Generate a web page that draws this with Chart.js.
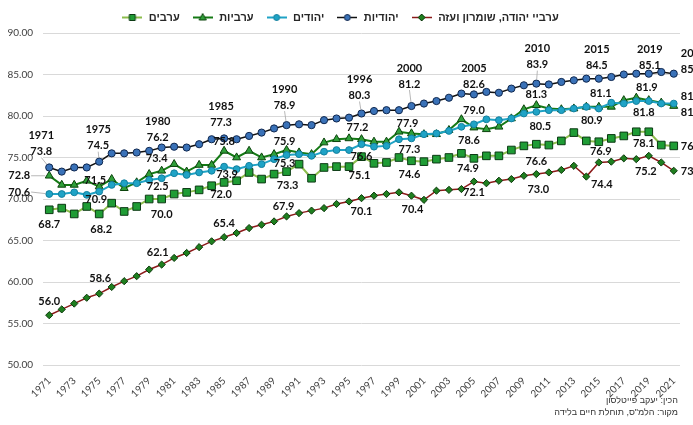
<!DOCTYPE html>
<html>
<head>
<meta charset="utf-8">
<script src="https://cdn.jsdelivr.net/npm/chart.js@4.4.1/dist/chart.umd.min.js"></script>
<style>
  html, body { margin: 0; padding: 0; background: #fff; }
</style>
</head>
<body>
<canvas id="chartTohelet" width="693" height="425"></canvas>
<script>
// Datos: tohelet hayim (esperanza de vida al nacer), 1971-2021
const years = [1971, 1972, 1973, 1974, 1975, 1976, 1977, 1978, 1979, 1980,
               1981, 1982, 1983, 1984, 1985, 1986, 1987, 1988, 1989, 1990,
               1991, 1992, 1993, 1994, 1995, 1996, 1997, 1998, 1999, 2000,
               2001, 2002, 2003, 2004, 2005, 2006, 2007, 2008, 2009, 2010,
               2011, 2012, 2013, 2014, 2015, 2016, 2017, 2018, 2019, 2020, 2021];

const seriesNames = ['ערביי יהודה, שומרון ועזה', 'יהודיות', 'יהודים', 'ערביות', 'ערבים'];

const arabsJSG = [56.0, 56.7, 57.4, 58.1, 58.6, 59.4, 60.1, 60.7, 61.5, 62.1,
                  62.9, 63.5, 64.2, 64.9, 65.4, 65.9, 66.5, 66.9, 67.3, 67.9,
                  68.3, 68.6, 68.9, 69.4, 69.7, 70.1, 70.4, 70.6, 70.8, 70.4,
                  69.9, 71.0, 71.1, 71.2, 72.1, 71.9, 72.2, 72.4, 72.8, 73.0,
                  73.2, 73.5, 74.0, 72.7, 74.4, 74.5, 74.9, 74.8, 75.2, 74.4, 73.4];

const jewishWomen = [73.8, 73.3, 73.8, 73.8, 74.5, 75.5, 75.5, 75.6, 75.8, 76.2,
                     76.3, 76.2, 76.6, 77.2, 77.3, 77.2, 77.6, 78.0, 78.5, 78.9,
                     79.0, 78.9, 79.5, 79.7, 79.8, 80.3, 80.6, 80.7, 80.7, 81.2,
                     81.5, 81.8, 82.2, 82.7, 82.6, 82.9, 82.8, 83.3, 83.7, 83.9,
                     83.8, 84.1, 84.3, 84.5, 84.5, 84.7, 85.0, 85.1, 85.1, 85.3, 85.1];

const jewishMen = [70.6, 70.6, 70.8, 70.5, 70.9, 71.7, 71.9, 71.9, 72.3, 72.5,
                   73.1, 72.9, 73.2, 73.4, 73.9, 73.6, 74.0, 74.2, 74.8, 75.3,
                   75.4, 75.2, 75.7, 75.9, 75.9, 76.6, 76.3, 76.4, 77.2, 77.3,
                   77.8, 77.9, 78.2, 78.7, 79.0, 79.6, 79.5, 79.7, 80.3, 80.5,
                   80.7, 80.7, 80.9, 81.1, 80.9, 81.6, 81.5, 81.8, 81.8, 81.5, 81.5];

const arabWomen = [72.8, 71.7, 71.7, 72.2, 71.5, 72.4, 71.3, 72.0, 73.0, 73.4,
                   74.2, 73.3, 74.1, 74.1, 75.8, 75.0, 75.8, 75.0, 75.4, 75.9,
                   75.6, 75.4, 76.8, 77.2, 77.3, 77.2, 76.9, 76.9, 78.1, 77.9,
                   77.8, 77.8, 78.3, 79.6, 78.6, 78.4, 78.7, 79.7, 80.8, 81.3,
                   80.9, 80.8, 80.9, 81.1, 81.1, 81.1, 81.9, 82.2, 81.9, 81.6, 81.2];

const arabMen = [68.7, 68.9, 68.2, 69.1, 68.2, 69.5, 68.5, 69.1, 70.0, 70.0,
                 70.6, 70.8, 71.1, 71.6, 72.0, 72.2, 73.2, 72.4, 73.0, 73.3,
                 74.2, 72.5, 73.8, 73.9, 73.9, 75.1, 74.3, 74.4, 75.0, 74.6,
                 74.5, 74.8, 75.0, 75.5, 74.9, 75.2, 75.2, 75.9, 76.4, 76.6,
                 76.5, 77.0, 78.0, 77.0, 76.9, 77.3, 77.6, 78.1, 78.1, 76.5, 76.4];

const yMin = 50;
const yMax = 90;
const yStep = 5;

// anos con etiqueta de valor
const labelYears = [1971, 1975, 1980, 1985, 1990, 1996, 2000, 2005, 2010, 2015, 2019, 2021];

const sourceLines = ['הכין: יעקב פייטלסון', 'מקור: הלמ"ס, תוחלת חיים בלידה'];

// Estilos de cada serie (mismo orden que seriesNames)
const estilos = [
    { linea: '#8b1a1a', grosor: 1.5, punto: 'rectRot', radio: 3.6, relleno: '#1f7f1f', borde: '#0b3a0b' },
    { linea: '#111111', grosor: 1.5, punto: 'circle', radio: 3.6, relleno: '#3a72b8', borde: '#10284f' },
    { linea: '#1fa3c6', grosor: 2, punto: 'circle', radio: 3.4, relleno: '#1fa3c6', borde: '#13809e' },
    { linea: '#157a15', grosor: 2, punto: 'triangle', radio: 4.6, relleno: '#2f9f3a', borde: '#0b430b' },
    { linea: '#8cbd4c', grosor: 2, punto: 'rect', radio: 5.4, relleno: '#1f9c35', borde: '#0c3a14' }
];

// Posicion de las etiquetas respecto al punto [dx, dy] (una por cada labelYears)
const posEtiquetas = [
    [[0, -14], [1, -15], [-4, -12], [0, -14], [-3, -10], [0, 13], [1, 14], [0, 11], [2, 15], [3, 22], [-3, 16], [7, 1]],
    [[-8, -16], [-1, -16], [-4, -10], [-3, -16], [-2, -20], [-2, -18], [-2, -22], [0, -10], [1, -19], [-2, -13], [1, -8], [7, -4]],
    [[-30, -2], [-3, 8], [-4, 8], [3, 8], [-2, 8], [0, 12], [-2, 11], [0, -14], [4, 15], [-7, 12], [-5, 11], [7, -7]],
    [[-30, 0], [-4, -6], [-5, -12], [0, -9], [-2, -9], [-4, -12], [-4, -10], [-5, 13], [0, -11], [2, -13], [-2, -13], [7, 6]],
    [[0, 15], [2, 16], [0, 15], [-3, 12], [1, 14], [-2, 19], [-2, 14], [-6, 10], [0, 17], [2, 10], [-5, 12], [7, 1]]
];
const conGuia = [
    [],
    [1971, 1975, 1990, 1996, 2000, 2010],
    [1971],
    [1971],
    []
];

const valores = [arabsJSG, jewishWomen, jewishMen, arabWomen, arabMen];

function iconoLeyenda(e) {
    const c = document.createElement('canvas');
    c.width = 20; c.height = 11;
    const g = c.getContext('2d');
    g.strokeStyle = e.linea;
    g.lineWidth = e.grosor;
    g.beginPath(); g.moveTo(0, 5.5); g.lineTo(20, 5.5); g.stroke();
    g.fillStyle = e.relleno;
    g.strokeStyle = e.borde;
    g.lineWidth = 1;
    g.beginPath();
    const x = 10, y = 5.5;
    if (e.punto === 'circle') {
        g.arc(x, y, 3, 0, Math.PI * 2);
    } else if (e.punto === 'rect') {
        g.rect(x - 3, y - 3, 6, 6);
    } else if (e.punto === 'triangle') {
        g.moveTo(x, y - 4); g.lineTo(x + 3.6, y + 2.5); g.lineTo(x - 3.6, y + 2.5); g.closePath();
    } else {
        g.moveTo(x, y - 3.5); g.lineTo(x + 3.5, y); g.lineTo(x, y + 3.5); g.lineTo(x - 3.5, y); g.closePath();
    }
    g.fill(); g.stroke();
    return c;
}
const iconos = estilos.map(iconoLeyenda);

const etiquetasPlugin = {
    id: 'etiquetas',
    afterDatasetsDraw(chart) {
        const ctx = chart.ctx;
        ctx.save();
        ctx.font = 'bold 11px Lato';
        ctx.fillStyle = '#111';
        ctx.textBaseline = 'middle';
        valores.forEach((serie, s) => {
            const meta = chart.getDatasetMeta(s);
            labelYears.forEach((yr, k) => {
                const idx = years.indexOf(yr);
                const pt = meta.data[idx];
                const [dx, dy] = posEtiquetas[s][k];
                const texto = serie[idx].toFixed(1);
                const alinIzq = (k === labelYears.length - 1);
                ctx.textAlign = alinIzq ? 'left' : 'center';
                const lx = pt.x + dx, ly = pt.y + dy;
                ctx.fillText(texto, lx, ly);
                if (s === 1) {
                    ctx.fillText(String(yr), lx, ly - 16);  // ano sobre la serie superior
                }
                if (conGuia[s].includes(yr)) {
                    // linea guia gris desde la etiqueta hasta el punto
                    const w = ctx.measureText(texto).width;
                    const cx = alinIzq ? lx + w / 2 : lx;
                    let sx, sy;
                    if (Math.abs(dx) > Math.abs(dy)) {
                        sx = dx < 0 ? cx + w / 2 + 1 : cx - w / 2 - 1;
                        sy = ly;
                    } else {
                        sx = cx;
                        sy = dy < 0 ? ly + 6 : ly - 6;
                    }
                    const ang = Math.atan2(pt.y - sy, pt.x - sx);
                    const ex = pt.x - Math.cos(ang) * 4, ey = pt.y - Math.sin(ang) * 4;
                    ctx.strokeStyle = '#a6a6a6';
                    ctx.lineWidth = 0.8;
                    ctx.beginPath(); ctx.moveTo(sx, sy); ctx.lineTo(ex, ey); ctx.stroke();
                }
            });
        });
        ctx.restore();
    },
    afterDraw(chart) {
        const ctx = chart.ctx;
        ctx.save();
        ctx.font = '9px "Liberation Sans"';
        ctx.fillStyle = '#333';
        ctx.textAlign = 'right';
        ctx.direction = 'rtl';
        ctx.textBaseline = 'middle';
        ctx.fillText(sourceLines[0], 678, 401);
        ctx.fillText(sourceLines[1], 678, 413);
        ctx.restore();
    }
};

const datasets = valores.map((serie, s) => ({
    label: seriesNames[s],
    data: serie,
    borderColor: estilos[s].linea,
    borderWidth: estilos[s].grosor,
    pointStyle: estilos[s].punto,
    pointRadius: estilos[s].radio,
    pointBackgroundColor: estilos[s].relleno,
    pointBorderColor: estilos[s].borde,
    pointBorderWidth: 1,
    tension: 0,
    fill: false
}));

new Chart(document.getElementById('chartTohelet').getContext('2d'), {
    type: 'line',
    data: { labels: years.map(String), datasets: datasets },
    plugins: [etiquetasPlugin],
    options: {
        responsive: false,
        animation: false,
        layout: { padding: { top: 0, right: 13, left: 0, bottom: 0 } },
        plugins: {
            legend: {
                position: 'top',
                reverse: true,
                labels: {
                    usePointStyle: true,
                    pointStyleWidth: 22,
                    padding: 12,
                    color: '#262626',
                    font: { family: '"Liberation Sans"', size: 11, weight: 'bold' },
                    generateLabels(chart) {
                        const items = Chart.defaults.plugins.legend.labels.generateLabels(chart);
                        return items.map(it => Object.assign(it, { pointStyle: iconos[it.datasetIndex] }));
                    }
                }
            },
            tooltip: { enabled: false }
        },
        scales: {
            x: {
                offset: true,
                grid: { display: false },
                border: { display: false },
                ticks: {
                    autoSkip: false,
                    minRotation: 45,
                    maxRotation: 45,
                    padding: 2,
                    color: '#404040',
                    font: { family: 'Lato', size: 10 },
                    callback: function(value, index) {
                        return index % 2 === 0 ? String(years[index]) : '';
                    }
                },
                afterFit(scale) { scale.height = 60; }
            },
            y: {
                min: yMin,
                max: yMax,
                grid: { color: '#d9d9d9', drawTicks: false },
                border: { display: false },
                ticks: {
                    stepSize: yStep,
                    padding: 10,
                    color: '#404040',
                    font: { family: 'Lato', size: 10 },
                    callback: function(value) {
                        return value.toFixed(2);
                    }
                },
                afterFit(scale) { scale.width = 43; }
            }
        }
    }
});
</script>
</body>
</html>
